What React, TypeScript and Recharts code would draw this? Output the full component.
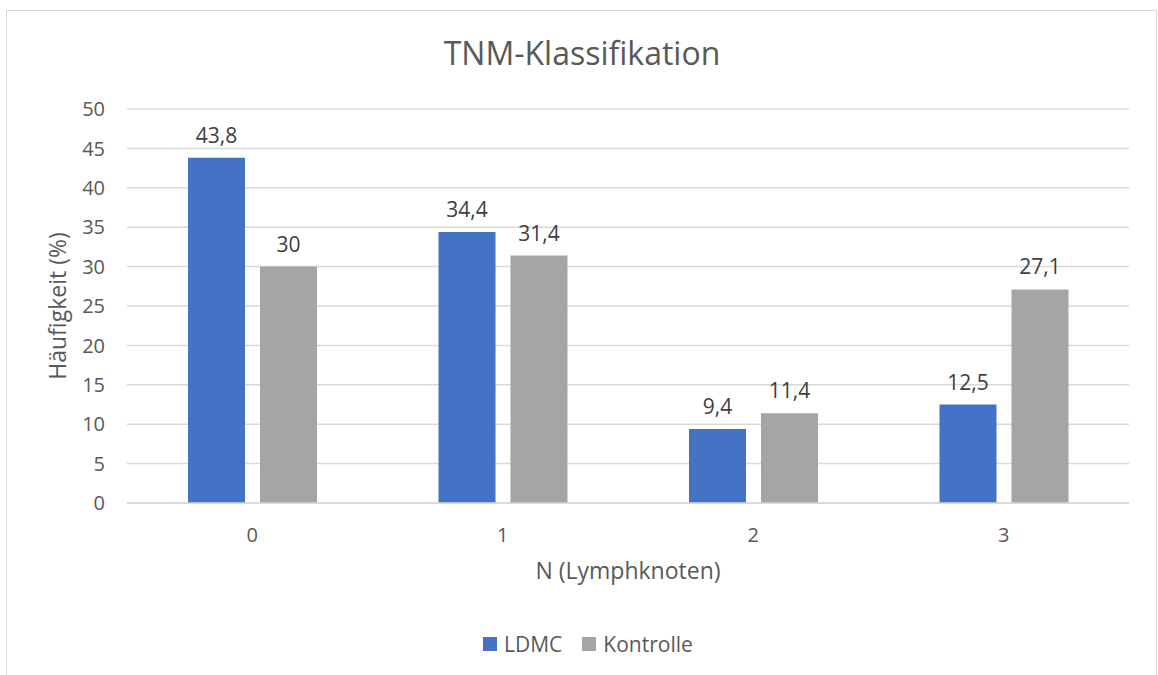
import React from 'react';
import { BarChart, Bar, XAxis, YAxis, CartesianGrid, LabelList, Label } from 'recharts';

// N-Stadium (Lymphknoten) und Häufigkeiten in Prozent
const categories = ['0', '1', '2', '3'];
const ldmc = [43.8, 34.4, 9.4, 12.5];
const kontrolle = [30, 31.4, 11.4, 27.1];
const yTicks = [0, 5, 10, 15, 20, 25, 30, 35, 40, 45, 50];

const BLUE = '#4472C4';
const GRAY = '#A5A5A5';
const TEXT = '#595959';
const FONT = '"Open Sans", "Noto Sans", sans-serif';

const data = categories.map((n, i) => ({ n, LDMC: ldmc[i], Kontrolle: kontrolle[i] }));

// Zahlen mit Dezimalkomma
const fmt = (v: any) => String(v).replace('.', ',');

const LegendItem: React.FC<{ color: string; text: string; gap: number }> = ({ color, text, gap }) => (
  <div style={{ display: 'flex', alignItems: 'center', marginRight: gap }}>
    <div style={{ width: 14, height: 14, background: color, marginRight: 7 }} />
    <span>{text}</span>
  </div>
);

const App: React.FC = () => {
  return (
    <div style={{ position: 'absolute', left: 0, top: 0, width: 1158, height: 675, background: '#fff', overflow: 'hidden', fontFamily: FONT }}>
      <div style={{ position: 'absolute', left: 6, top: 10, width: 1151, height: 700, border: '1px solid #d9d9d9', boxSizing: 'border-box' }} />
      <div style={{ position: 'absolute', left: 3, width: 1158, top: 31, textAlign: 'center', fontSize: 32, color: TEXT }}>
        TNM-Klassifikation
      </div>
      <div style={{ position: 'absolute', left: 0, top: 0 }}>
        <BarChart
          width={1158}
          height={675}
          data={data}
          margin={{ top: 109, right: 29, left: 0, bottom: 100 }}
          barCategoryGap={61}
          barGap={15}
        >
          <CartesianGrid vertical={false} stroke="#d9d9d9" strokeWidth={1.5} />
          <XAxis
            dataKey="n"
            axisLine={{ stroke: '#d9d9d9', strokeWidth: 1.5 }}
            tickLine={false}
            tick={{ fill: TEXT, fontSize: 20, fontFamily: FONT }}
            tickMargin={19}
            height={72}
          >
            <Label value="N (Lymphknoten)" position="insideBottom" offset={-4} style={{ fill: TEXT, fontSize: 23, fontFamily: FONT }} />
          </XAxis>
          <YAxis
            domain={[0, 50]}
            ticks={yTicks}
            axisLine={false}
            tickLine={false}
            tick={{ fill: TEXT, fontSize: 20, fontFamily: FONT }}
            tickMargin={16}
            width={127}
            interval={0}
          >
            <Label value="Häufigkeit (%)" angle={-90} position="insideLeft" offset={58} style={{ fill: TEXT, fontSize: 23, fontFamily: FONT, textAnchor: 'middle' }} />
          </YAxis>
          <Bar dataKey="LDMC" fill={BLUE} isAnimationActive={false}>
            <LabelList dataKey="LDMC" position="top" offset={15} formatter={fmt} style={{ fill: '#404040', fontSize: 21, fontFamily: FONT }} />
          </Bar>
          <Bar dataKey="Kontrolle" fill={GRAY} isAnimationActive={false}>
            <LabelList dataKey="Kontrolle" position="top" offset={15} formatter={fmt} style={{ fill: '#404040', fontSize: 21, fontFamily: FONT }} />
          </Bar>
        </BarChart>
      </div>
      <div style={{ position: 'absolute', left: 483, top: 630, display: 'flex', fontSize: 21, color: TEXT }}>
        <LegendItem color={BLUE} text="LDMC" gap={20} />
        <LegendItem color={GRAY} text="Kontrolle" gap={0} />
      </div>
    </div>
  );
};

export default App;
